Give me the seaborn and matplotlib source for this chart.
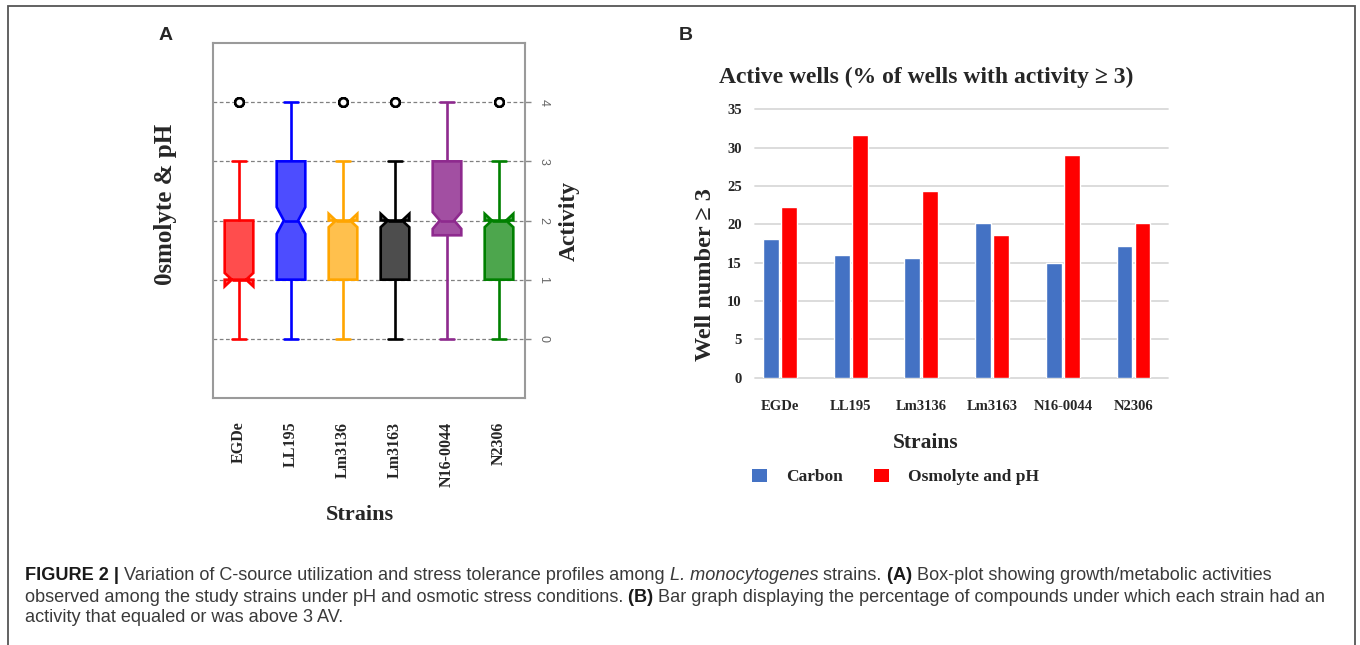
import numpy as np
import pandas as pd
import matplotlib
matplotlib.use("Agg")
import matplotlib.pyplot as plt
import seaborn as sns
from matplotlib.patches import Patch, Rectangle

# ---------------- data ----------------
strains = ["EGDe", "LL195", "Lm3136", "Lm3163", "N16-0044", "N2306"]
activity_levels = [0, 1, 2, 3, 4]
# number of wells (out of 192 osmolyte/pH wells) at each activity level, per strain
wells_at_0 = [30, 25, 25, 28, 20, 26]
wells_at_1 = [80, 50, 55, 58, 28, 60]
wells_at_2 = [39, 56, 65, 70, 88, 67]
wells_at_3 = [35, 45, 40, 30, 40, 32]
wells_at_4 = [8, 16, 7, 6, 16, 7]

series_names = ["Carbon", "Osmolyte and pH"]
carbon_pct = [18.1, 16.0, 15.6, 20.2, 14.9, 17.2]
osmolyte_pct = [22.3, 31.6, 24.4, 18.6, 29.1, 20.2]

box_edge_colors = ["#FF0000", "#0000FF", "#FFA500", "#000000", "#8E2A8E", "#008000"]
box_fill_colors = ["#FF4D4D", "#4D4DFF", "#FFC04D", "#4D4D4D", "#A24FA2", "#4DA64D"]
bar_colors = ["#4472C4", "#FF0000"]

SERIF = ["Liberation Serif", "DejaVu Serif"]
SANS = ["Liberation Sans", "DejaVu Sans"]

# ---------------- build tables ----------------
level_counts = [wells_at_0, wells_at_1, wells_at_2, wells_at_3, wells_at_4]
rows = []
for i, s in enumerate(strains):
    for lvl, cnt in zip(activity_levels, level_counts):
        rows += [(s, lvl)] * cnt[i]
box_df = pd.DataFrame(rows, columns=["Strain", "Activity"])

bar_df = pd.DataFrame({
    "Strain": strains * 2,
    "Series": [series_names[0]] * len(strains) + [series_names[1]] * len(strains),
    "Value": carbon_pct + osmolyte_pct,
})

sns.set_style("white")
plt.rcParams["font.family"] = SERIF

W, H = 1360, 645
fig = plt.figure(figsize=(W / 100, H / 100), dpi=100)
fig.patch.set_facecolor("white")


def fx(px):
    return px / W


def fy(py):
    return 1 - py / H


# ---------------- panel A ----------------
axA = fig.add_axes([fx(213), fy(398), (525 - 213) / W, (398 - 43) / H])
for i, s in enumerate(strains):
    sns.boxplot(
        data=box_df[box_df["Strain"] == s], x="Strain", y="Activity",
        order=strains, color=box_fill_colors[i], linecolor=box_edge_colors[i],
        saturation=1, width=0.55, linewidth=1.9, notch=True,
        flierprops=dict(marker="o", markerfacecolor="white", markeredgecolor="black",
                        markersize=6, markeredgewidth=1.7),
        medianprops=dict(color=box_edge_colors[i], linewidth=1.9),
        ax=axA,
    )
axA.set_xlim(-0.5, 5.5)
axA.set_ylim(-1, 5)
axA.set_xlabel("")
axA.set_ylabel("")
axA.yaxis.tick_right()
axA.set_yticks(activity_levels)
axA.set_yticklabels([str(v) for v in activity_levels], rotation=-90, fontsize=9,
                    color="#666666", family=SANS, va="center")
axA.set_xticks(range(len(strains)))
axA.set_xticklabels(strains, rotation=90, fontsize=11.5, weight="bold", va="top")
axA.tick_params(axis="x", length=4, width=1, color="#888888", pad=13)
axA.tick_params(axis="y", length=4, width=1, color="#888888", pad=5,
                right=True, left=False)
axA.set_axisbelow(True)
axA.yaxis.grid(True, linestyle=(0, (3, 2)), color="#808080", linewidth=0.9)
axA.xaxis.grid(False)
for sp in axA.spines.values():
    sp.set_visible(True)
    sp.set_color("#9a9a9a")
    sp.set_linewidth(1.5)

axA.text(-0.151, 0.544, "0smolyte & pH", transform=axA.transAxes, rotation=90,
         ha="center", va="center", fontsize=18, weight="bold")
axA.text(1.141, 0.5, "Activity", transform=axA.transAxes, rotation=90,
         ha="center", va="center", fontsize=17, weight="bold")
axA.text(0.471, -0.33, "Strains", transform=axA.transAxes,
         ha="center", va="center", fontsize=16, weight="bold")

# ---------------- panel B ----------------
axB = fig.add_axes([fx(755), fy(377.7), (1168 - 755) / W, (377.7 - 109.3) / H])
sns.barplot(data=bar_df, x="Strain", y="Value", hue="Series", order=strains,
            hue_order=series_names, palette=bar_colors, saturation=1,
            width=0.51, gap=0.12, errorbar=None, legend=False, ax=axB)
axB.set_xlim(-0.354, 5.488)
axB.set_ylim(0, 35)
axB.set_yticks(range(0, 36, 5))
axB.set_yticklabels([str(v) for v in range(0, 36, 5)], fontsize=10.5, weight="bold")
axB.set_xticks(range(len(strains)))
axB.set_xticklabels(strains, fontsize=10.5, weight="bold")
axB.tick_params(axis="both", length=0)
axB.tick_params(axis="y", pad=9.5)
axB.tick_params(axis="x", pad=16)
axB.set_xlabel("")
axB.set_ylabel("")
axB.set_axisbelow(True)
axB.yaxis.grid(True, color="#d9d9d9", linewidth=1.3, clip_on=False)
axB.xaxis.grid(False)
for sp in axB.spines.values():
    sp.set_visible(False)

axB.text(0.414, 1.12, "Active wells (% of wells with activity \u2265 3)",
         transform=axB.transAxes, ha="center", va="center", fontsize=17, weight="bold")
axB.text(-0.121, 0.383, "Well number \u2265 3", transform=axB.transAxes, rotation=90,
         ha="center", va="center", fontsize=17.5, weight="bold")
axB.text(0.414, -0.243, "Strains", transform=axB.transAxes,
         ha="center", va="center", fontsize=15.5, weight="bold")
handles = [Patch(facecolor=c, edgecolor="none", label=n)
           for c, n in zip(bar_colors, series_names)]
axB.legend(handles=handles, loc="center left", bbox_to_anchor=(-0.007, -0.37),
           ncol=2, frameon=False, borderaxespad=0, borderpad=0,
           prop=dict(family=SERIF, weight="bold", size=12.5),
           handlelength=0.85, handleheight=0.85, handletextpad=1.1, columnspacing=1.8)

# ---------------- panel letters ----------------
fig.text(fx(166), fy(35), "A", fontsize=14, weight="bold", family=SANS,
         ha="center", va="center")
fig.text(fx(686), fy(35), "B", fontsize=14, weight="bold", family=SANS,
         ha="center", va="center")

# ---------------- border ----------------
fig.add_artist(Rectangle((fx(8), -0.05), (1355 - 8) / W, fy(6) + 0.05,
                         transform=fig.transFigure, fill=False,
                         edgecolor="#555555", linewidth=1.3, clip_on=False))

# ---------------- caption ----------------
renderer = fig.canvas.get_renderer()
NORMAL_C = "#3a3a3a"
BOLD_C = "#1a1a1a"

cap_lines = [
    [("FIGURE 2 | ", "bold", "normal"),
     ("Variation of C-source utilization and stress tolerance profiles among ", "normal", "normal"),
     ("L. monocytogenes ", "normal", "italic"),
     ("strains. ", "normal", "normal"),
     ("(A) ", "bold", "normal"),
     ("Box-plot showing growth/metabolic activities", "normal", "normal")],
    [("observed among the study strains under pH and osmotic stress conditions. ", "normal", "normal"),
     ("(B) ", "bold", "normal"),
     ("Bar graph displaying the percentage of compounds under which each strain had an", "normal", "normal")],
    [("activity that equaled or was above 3 AV.", "normal", "normal")],
]


def measure(txt, size, weight, style):
    t = fig.text(0, 0, txt + "x", fontsize=size, weight=weight, style=style, family=SANS)
    w1 = t.get_window_extent(renderer).width
    t.set_text("x")
    w2 = t.get_window_extent(renderer).width
    t.remove()
    return w1 - w2


def line_width(runs, size):
    return sum(measure(t, size, w, s) for t, w, s in runs)


base = 10.0
target = 1274 - 25
cap_size = base * target / line_width(cap_lines[0], base)

for y, runs in zip([575, 597, 618], cap_lines):
    x = 25
    for txt, weight, style in runs:
        fig.text(fx(x), fy(y), txt, fontsize=cap_size, weight=weight, style=style,
                 family=SANS, color=BOLD_C if weight == "bold" else NORMAL_C,
                 ha="left", va="center")
        x += measure(txt, cap_size, weight, style)

fig.savefig("out.png", dpi=100)
